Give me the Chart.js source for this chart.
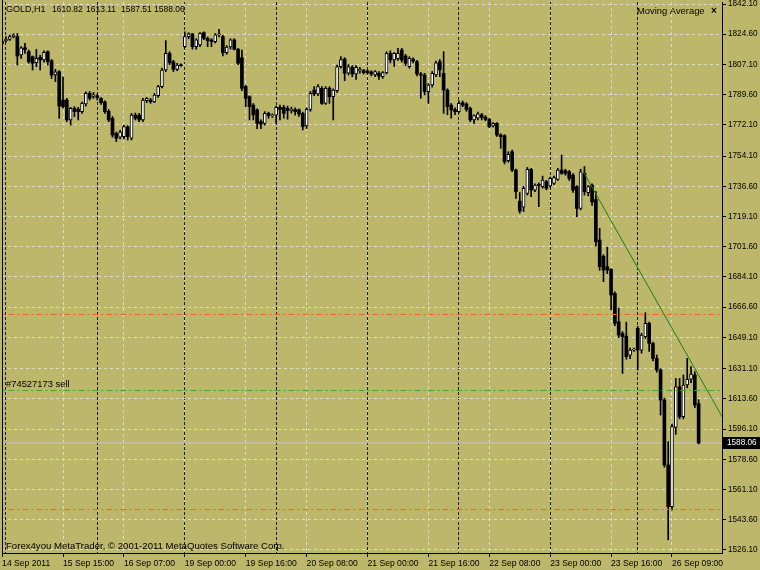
<!DOCTYPE html>
<html>
<head>
<meta charset="utf-8">
<script src="https://cdn.jsdelivr.net/npm/chart.js@4.4.1/dist/chart.umd.min.js"></script>
<style>
html,body{margin:0;padding:0;background:#BDB76B;}
#wrap{width:760px;height:570px;position:relative;overflow:hidden;}
canvas{display:block;}
</style>
</head>
<body>
<div id="wrap"><canvas id="c" width="760" height="570"></canvas></div>
<script>
// ---- GOLD, H1 candles (bar index 0 = 14 Sep 2011 23:00) ----
const opens = [1818.8,1820.7,1821.6,1823.0,1823.2,1812.6,1816.8,1814.5,1811.6,1808.2,1811.2,1809.7,1814.5,1809.3,1801.0,1802.9,1786.5,1786.5,1775.0,1781.7,1781.1,1779.8,1784.2,1790.4,1788.6,1789.0,1787.5,1785.4,1780.0,1775.9,1767.2,1765.0,1765.3,1771.0,1764.4,1777.8,1777.8,1775.0,1786.1,1786.5,1785.5,1789.0,1794.3,1803.9,1813.5,1808.7,1804.3,1806.8,1817.4,1823.2,1824.8,1817.4,1818.4,1825.5,1822.2,1821.3,1820.3,1824.2,1823.2,1814.0,1817.2,1821.3,1815.9,1811.0,1794.3,1788.5,1783.6,1780.8,1774.0,1773.0,1778.8,1777.3,1777.7,1782.3,1782.3,1781.7,1780.4,1781.1,1780.8,1778.8,1771.5,1781.1,1792.3,1790.0,1793.3,1784.6,1793.3,1788.5,1792.0,1805.8,1810.3,1802.0,1805.4,1801.6,1803.3,1803.5,1803.3,1802.8,1801.0,1802.0,1800.0,1802.4,1813.5,1809.7,1810.5,1815.5,1812.0,1805.8,1810.2,1808.7,1801.6,1801.0,1791.4,1795.2,1801.0,1808.7,1802.0,1792.3,1783.6,1781.0,1779.8,1785.0,1784.2,1781.7,1775.0,1776.0,1778.0,1776.6,1775.3,1771.5,1773.0,1766.3,1765.9,1751.4,1756.6,1746.0,1728.0,1724.5,1732.5,1746.4,1734.4,1737.7,1736.4,1739.3,1736.8,1738.3,1740.6,1746.0,1745.6,1745.0,1743.1,1736.4,1723.8,1744.1,1732.9,1737.3,1729.0,1705.5,1696.0,1690.1,1688.5,1674.6,1658.2,1651.5,1649.9,1638.9,1641.8,1654.4,1641.8,1649.5,1657.3,1645.7,1637.0,1630.3,1612.9,1575.3,1551.2,1597.0,1620.6,1603.2,1621.6,1625.0,1627.4,1610.82];
const highs = [1821.3,1823.2,1824.2,1824.8,1825.0,1817.4,1819.3,1815.5,1812.0,1815.9,1812.5,1815.0,1815.0,1810.0,1804.3,1803.5,1800.0,1787.5,1782.3,1782.7,1782.3,1785.4,1791.2,1791.5,1791.0,1790.0,1788.0,1786.0,1781.0,1777.0,1768.0,1769.0,1772.0,1771.7,1778.8,1779.0,1778.8,1787.5,1788.0,1787.5,1790.4,1795.0,1805.0,1820.9,1814.5,1809.5,1807.8,1807.5,1826.0,1825.5,1825.0,1822.0,1825.5,1826.0,1823.0,1822.0,1825.0,1827.5,1824.0,1818.0,1822.0,1822.0,1816.5,1815.5,1795.0,1789.0,1784.5,1781.5,1775.0,1779.8,1779.5,1778.5,1783.0,1783.6,1783.5,1783.0,1782.5,1782.0,1781.5,1779.5,1782.0,1791.5,1794.3,1795.5,1794.3,1794.3,1794.3,1793.0,1806.8,1811.6,1811.0,1807.0,1806.5,1806.5,1805.5,1804.3,1804.0,1803.5,1803.5,1803.0,1803.0,1814.5,1815.0,1814.0,1816.5,1816.5,1813.0,1811.6,1811.0,1809.5,1802.5,1802.0,1796.0,1803.0,1809.0,1810.0,1814.5,1793.0,1784.5,1782.0,1786.0,1786.0,1785.0,1782.5,1778.0,1779.5,1778.8,1777.5,1776.0,1773.5,1773.5,1767.0,1766.5,1756.6,1757.5,1746.5,1733.0,1736.5,1747.5,1747.0,1738.0,1738.5,1742.5,1740.0,1742.0,1742.5,1747.0,1754.7,1746.5,1745.8,1744.0,1737.0,1746.5,1748.0,1737.0,1738.0,1733.5,1712.3,1697.0,1701.3,1689.0,1675.5,1666.0,1652.5,1658.0,1643.0,1643.0,1655.5,1651.5,1663.4,1658.0,1646.5,1639.0,1631.0,1614.0,1588.8,1599.0,1625.4,1625.4,1627.4,1637.0,1632.2,1629.3,1613.11];
const lows = [1818.2,1820.0,1821.0,1822.5,1806.8,1810.6,1813.5,1807.8,1803.9,1805.8,1803.9,1808.5,1806.8,1799.0,1797.2,1775.9,1782.0,1774.0,1772.0,1776.9,1775.0,1778.8,1783.0,1786.5,1787.5,1786.5,1784.0,1778.8,1774.0,1765.0,1762.4,1764.0,1764.0,1763.4,1763.4,1775.0,1774.0,1774.0,1785.0,1784.6,1785.0,1788.0,1793.5,1802.9,1807.0,1803.0,1803.5,1806.0,1816.8,1822.0,1816.0,1815.9,1817.4,1821.5,1817.4,1817.4,1819.5,1823.0,1812.0,1813.0,1816.0,1815.5,1807.0,1792.0,1782.7,1775.0,1775.0,1770.0,1770.0,1772.0,1776.0,1776.5,1773.0,1775.0,1776.0,1775.4,1779.0,1777.8,1777.0,1769.2,1770.0,1780.0,1789.0,1789.0,1784.0,1784.0,1784.6,1775.0,1791.0,1805.0,1797.7,1801.0,1800.0,1798.5,1802.0,1801.6,1801.6,1800.5,1800.0,1798.5,1799.0,1801.6,1808.0,1806.0,1809.5,1808.5,1806.5,1805.0,1808.0,1800.5,1787.5,1789.5,1784.6,1794.0,1800.0,1800.0,1778.8,1778.0,1776.0,1778.0,1779.0,1782.7,1780.0,1774.0,1773.0,1775.0,1775.0,1774.5,1770.5,1770.8,1765.5,1758.6,1749.5,1750.5,1745.0,1729.6,1721.0,1722.0,1731.5,1730.6,1733.5,1724.8,1735.5,1734.5,1736.0,1737.5,1740.0,1743.5,1743.0,1740.0,1733.0,1719.0,1723.0,1731.5,1731.0,1725.5,1702.0,1688.0,1681.4,1686.0,1665.0,1656.0,1649.0,1628.3,1636.5,1636.8,1641.0,1630.3,1640.0,1648.5,1641.0,1635.5,1629.0,1604.2,1574.0,1532.0,1549.2,1593.0,1602.0,1602.0,1620.0,1623.0,1608.5,1587.51];
const closes = [1820.7,1821.8,1823.2,1824.2,1812.0,1816.8,1815.7,1808.7,1807.8,1810.6,1809.7,1814.1,1808.7,1801.0,1802.9,1783.0,1782.7,1775.0,1781.7,1779.8,1779.8,1784.6,1790.4,1787.5,1789.6,1788.0,1785.0,1779.8,1775.0,1766.3,1764.4,1768.0,1771.1,1765.3,1777.8,1776.0,1775.0,1786.5,1787.5,1785.5,1789.4,1794.3,1803.9,1813.5,1808.1,1804.3,1806.8,1806.4,1823.2,1824.8,1817.4,1821.3,1825.1,1822.2,1820.9,1820.3,1824.2,1824.8,1813.9,1817.2,1821.3,1815.9,1807.8,1793.3,1787.5,1782.7,1777.9,1773.0,1772.6,1778.8,1777.5,1777.9,1782.3,1781.1,1778.8,1780.4,1781.3,1779.8,1778.4,1771.1,1781.1,1790.4,1790.0,1794.3,1784.6,1793.3,1788.5,1792.3,1805.8,1810.0,1802.0,1805.8,1801.6,1805.4,1804.3,1802.4,1802.4,1801.6,1803.0,1800.4,1802.4,1813.5,1809.7,1813.5,1813.5,1809.7,1807.8,1810.6,1809.0,1801.6,1801.0,1791.4,1795.2,1802.0,1808.1,1804.0,1792.3,1782.7,1780.8,1779.8,1784.6,1783.6,1781.1,1775.0,1777.5,1778.6,1776.4,1775.3,1771.1,1773.0,1766.3,1765.3,1750.8,1755.1,1746.0,1733.5,1722.3,1735.4,1746.4,1734.4,1737.3,1737.0,1740.2,1735.4,1741.2,1741.7,1746.0,1744.1,1744.1,1741.2,1734.4,1723.8,1745.0,1733.5,1736.4,1727.5,1704.5,1690.1,1688.1,1688.1,1673.7,1657.3,1650.5,1649.5,1638.0,1641.8,1642.2,1641.8,1650.5,1657.3,1645.7,1637.0,1630.3,1612.9,1575.3,1551.2,1597.5,1620.6,1603.2,1621.6,1624.9,1627.9,1610.0,1588.06];

// ---- time axis ----
const timeLabelBars = [0,16,32,48,64,80,96,112,128,144,160,176];
const timeLabels = ['14 Sep 2011','15 Sep 15:00','16 Sep 07:00','19 Sep 00:00','19 Sep 16:00','20 Sep 08:00','21 Sep 00:00','21 Sep 16:00','22 Sep 08:00','23 Sep 00:00','23 Sep 16:00','26 Sep 09:00'];
const daySeparatorBars = [1,25,48,72,96,120,144,167];

// ---- price axis ----
const priceTicks = [1842.10,1824.60,1807.10,1789.60,1772.10,1754.10,1736.60,1719.10,1701.60,1684.10,1666.60,1649.10,1631.10,1613.60,1596.10,1578.60,1561.10,1543.60,1526.10];

// ---- objects on chart ----
const upperLevel = 1662.4;
const sellLevel = 1618.4;
const lowerLevel = 1549.5;
const bidPrice = 1588.06;
const trendBars = [152.7, 189.2];
const trendPrices = [1745.0, 1603.1];

const X_MIN = -0.03, X_MAX = 189.14;
const Y_MIN = 1524.36, Y_MAX = 1843.26;
const FONT = "'Liberation Sans',Arial,sans-serif";
const BG = '#BDB76B';
const GRID = 'rgba(222,222,212,0.95)';

const bodyData = opens.map((o,i)=>({x:i, y:[o, closes[i]]}));
const wickData = lows.map((l,i)=>({x:i, y:[l, highs[i]]}));
const bull = opens.map((o,i)=>closes[i] >= o);
const bodyFill = bull.map(b => b ? '#FFFFFF' : '#000000');
const bodyBorder = bull.map(b => b ? 1 : 0);

function hLine(v){ return [{x:X_MIN-2, y:v},{x:X_MAX+2, y:v}]; }

const bgPlugin = {
  id:'bg',
  beforeDraw(chart){
    const c = chart.ctx;
    c.save(); c.fillStyle = BG; c.fillRect(0,0,chart.width,chart.height); c.restore();
  }
};

const overlayPlugin = {
  id:'overlay',
  afterDraw(chart){
    const c = chart.ctx;
    const a = chart.chartArea;
    c.save();
    c.fillStyle = '#000';
    c.fillRect(2, 0, 1, a.bottom);
    c.textBaseline = 'middle';
    c.textAlign = 'left';
    c.fillStyle = '#000';
    const n = closes.length - 1;
    c.font = '9px ' + FONT;
    c.fillText('GOLD,H1', 6, 10);
    c.font = '8.5px ' + FONT;
    c.fillText(opens[n].toFixed(2), 52, 10);
    c.fillText(highs[n].toFixed(2), 86, 10);
    c.fillText(lows[n].toFixed(2), 121, 10);
    c.fillText(closes[n].toFixed(2), 154, 10);
    c.font = '9.4px ' + FONT;
    c.fillText('Moving Average', 637, 11);
    c.font = 'bold 10px ' + FONT;
    c.fillText('×', 711, 11);
    c.font = '9.4px ' + FONT;
    c.fillText('#74527173 sell', 6, 384);
    c.font = '9.6px ' + FONT;
    c.fillText('Forex4you MetaTrader, © 2001-2011 MetaQuotes Software Corp.', 6, 546);
    const yb = chart.scales.y.getPixelForValue(bidPrice);
    c.fillStyle = '#000';
    c.fillRect(a.right + 1, Math.round(yb) - 6, 760 - a.right - 1, 12);
    c.fillStyle = '#FFF';
    c.font = '8.2px ' + FONT;
    c.fillText(bidPrice.toFixed(2), a.right + 5, Math.round(yb));
    c.restore();
  }
};

new Chart(document.getElementById('c'), {
  type:'bar',
  data:{
    datasets:[
      {type:'line', data: trendBars.map((b,i)=>({x:b, y:trendPrices[i]})), borderColor:'#1E7D1E', borderWidth:1, pointRadius:0, fill:false, order:0, xAxisID:'x', yAxisID:'y'},
      {type:'line', data: hLine(upperLevel), borderColor:'#F26522', borderWidth:1, borderDash:[6,3,2,3], pointRadius:0, fill:false, order:0, xAxisID:'x', yAxisID:'y'},
      {type:'line', data: hLine(lowerLevel), borderColor:'#F26522', borderWidth:1, borderDash:[6,3,2,3], pointRadius:0, fill:false, order:0, xAxisID:'x', yAxisID:'y'},
      {type:'line', data: hLine(sellLevel), borderColor:'#46A628', borderWidth:1, borderDash:[6,3,2,3], pointRadius:0, fill:false, order:0, xAxisID:'x', yAxisID:'y'},
      {type:'line', data: hLine(bidPrice), borderColor:'#C8C8C8', borderWidth:1, pointRadius:0, fill:false, order:3, xAxisID:'x', yAxisID:'y'},
      {type:'bar', data: bodyData, backgroundColor: bodyFill, borderColor:'#000', borderWidth: bodyBorder, borderSkipped:false, barThickness:3, minBarLength:1, grouped:false, order:1, xAxisID:'x', yAxisID:'y'},
      {type:'bar', data: wickData, backgroundColor:'#000', borderWidth:0, barThickness:1, grouped:false, order:2, xAxisID:'x', yAxisID:'y'}
    ]
  },
  options:{
    responsive:false,
    maintainAspectRatio:false,
    animation:false,
    events:[],
    devicePixelRatio:1,
    layout:{padding:{left:2, top:2, right:0, bottom:0}},
    plugins:{legend:{display:false}, tooltip:{enabled:false}, title:{display:false}},
    scales:{
      x:{
        type:'linear', position:'bottom', min:X_MIN, max:X_MAX, bounds:'data', offset:false,
        afterBuildTicks: s => { s.ticks = timeLabelBars.map(v=>({value:v})); },
        afterFit: s => { s.height = 17; s.paddingLeft = 0; s.paddingRight = 0; },
        ticks:{autoSkip:false, maxRotation:0, minRotation:0, align:'start', padding:1, color:'#000', font:{family:FONT, size:8.6}, callback:(v,i)=>timeLabels[i]},
        grid:{offset:false, color:GRID, lineWidth:1, drawTicks:true, tickLength:4, tickColor:'#000', tickWidth:1},
        border:{display:true, color:'#000', width:1, dash:[3,3]}
      },
      xs:{
        type:'linear', position:'top', min:X_MIN, max:X_MAX, bounds:'data', offset:false,
        afterBuildTicks: s => { s.ticks = daySeparatorBars.map(v=>({value:v})); },
        afterFit: s => { s.height = 0; s.paddingLeft = 0; s.paddingRight = 0; },
        ticks:{display:false},
        grid:{offset:false, color:'#1C1C1C', lineWidth:1, drawTicks:false},
        border:{display:false, dash:[3,2]}
      },
      y:{
        type:'linear', position:'right', min:Y_MIN, max:Y_MAX, bounds:'data',
        afterBuildTicks: s => { s.ticks = priceTicks.map(v=>({value:v})); },
        afterFit: s => { s.width = 38; s.paddingTop = 0; s.paddingBottom = 0; },
        ticks:{padding:2, color:'#000', font:{family:FONT, size:8.2}, callback:v=>Number(v).toFixed(2)},
        grid:{color:GRID, lineWidth:1, drawTicks:true, tickLength:4, tickColor:'#000', tickWidth:1},
        border:{display:true, color:'#000', width:1, dash:[3,3]}
      }
    }
  },
  plugins:[bgPlugin, overlayPlugin]
});
</script>
</body>
</html>
